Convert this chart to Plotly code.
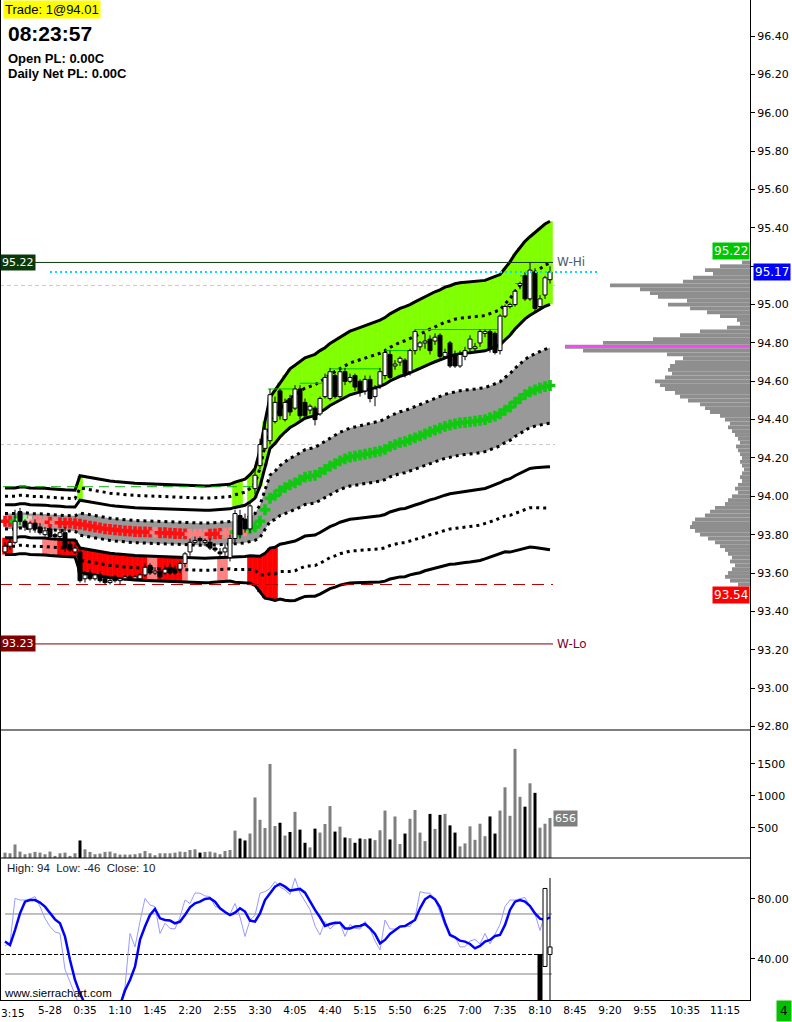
import plotly.graph_objects as go

# ------------------------------------------------------------------ data
N_BARS = 110
bar_minutes = [-45 + 5 * i for i in range(N_BARS)]   # 5-minute bars, 23:15 (prev day) .. 08:20

open_ = [93.71, 93.74, 93.76, 93.92, 93.87, 93.83, 93.86, 93.84, 93.80, 93.83,
         93.80, 93.79, 93.81, 93.75, 93.71, 93.71, 93.57, 93.60, 93.57, 93.59,
         93.57, 93.55, 93.58, 93.56, 93.57, 93.58, 93.57, 93.57, 93.59, 93.64,
         93.60, 93.61, 93.60, 93.63, 93.62, 93.62, 93.65, 93.71, 93.76, 93.78,
         93.76, 93.76, 93.73, 93.71, 93.71, 93.68, 93.78, 93.90, 93.88, 93.83,
         94.04, 94.16, 94.25, 94.29, 94.39, 94.55, 94.40, 94.51, 94.46, 94.56,
         94.49, 94.45, 94.46, 94.43, 94.52, 94.51, 94.63, 94.52, 94.65, 94.60,
         94.63, 94.60, 94.55, 94.61, 94.52, 94.58, 94.63, 94.74, 94.68, 94.70,
         94.71, 94.65, 94.76, 94.78, 94.80, 94.82, 94.81, 94.84, 94.73, 94.80,
         94.74, 94.68, 94.73, 94.77, 94.77, 94.80, 94.85, 94.86, 94.85, 94.76,
         94.94, 94.99, 95.00, 95.10, 95.15, 95.03, 95.17, 94.99, 95.05, 95.13]
high = [93.76, 93.78, 93.93, 93.94, 93.88, 93.87, 93.88, 93.86, 93.84, 93.84,
        93.81, 93.83, 93.84, 93.77, 93.75, 93.73, 93.61, 93.62, 93.60, 93.61,
        93.58, 93.57, 93.59, 93.58, 93.59, 93.59, 93.59, 93.60, 93.65, 93.65,
        93.63, 93.63, 93.64, 93.65, 93.64, 93.66, 93.71, 93.78, 93.79, 93.79,
        93.78, 93.78, 93.74, 93.73, 93.75, 93.80, 93.93, 93.93, 93.91, 93.97,
        94.14, 94.30, 94.38, 94.56, 94.52, 94.56, 94.51, 94.53, 94.58, 94.58,
        94.51, 94.48, 94.47, 94.52, 94.64, 94.67, 94.64, 94.67, 94.67, 94.64,
        94.64, 94.61, 94.63, 94.63, 94.58, 94.67, 94.77, 94.76, 94.71, 94.73,
        94.72, 94.77, 94.87, 94.81, 94.85, 94.84, 94.85, 94.85, 94.77, 94.81,
        94.76, 94.76, 94.78, 94.84, 94.80, 94.87, 94.87, 94.87, 94.86, 94.95,
        95.00, 95.01, 95.08, 95.12, 95.17, 95.22, 95.19, 95.05, 95.15, 95.20]
low = [93.70, 93.72, 93.75, 93.85, 93.82, 93.81, 93.81, 93.80, 93.79, 93.78,
       93.77, 93.78, 93.71, 93.71, 93.70, 93.55, 93.55, 93.56, 93.56, 93.55,
       93.54, 93.54, 93.55, 93.54, 93.56, 93.56, 93.56, 93.56, 93.58, 93.59,
       93.59, 93.57, 93.59, 93.59, 93.59, 93.60, 93.63, 93.69, 93.75, 93.75,
       93.74, 93.72, 93.71, 93.68, 93.69, 93.66, 93.76, 93.78, 93.81, 93.81,
       94.01, 94.14, 94.24, 94.27, 94.38, 94.40, 94.39, 94.42, 94.45, 94.40,
       94.40, 94.43, 94.37, 94.42, 94.51, 94.50, 94.51, 94.51, 94.58, 94.59,
       94.55, 94.52, 94.53, 94.49, 94.47, 94.56, 94.61, 94.61, 94.66, 94.68,
       94.62, 94.63, 94.74, 94.76, 94.77, 94.74, 94.79, 94.72, 94.72, 94.67,
       94.67, 94.67, 94.71, 94.75, 94.75, 94.78, 94.83, 94.75, 94.74, 94.74,
       94.93, 94.98, 94.99, 95.08, 95.02, 95.02, 94.96, 94.97, 95.03, 95.11]
close = [93.74, 93.76, 93.87, 93.87, 93.84, 93.86, 93.83, 93.81, 93.82, 93.79,
         93.79, 93.81, 93.73, 93.72, 93.73, 93.56, 93.59, 93.57, 93.59, 93.56,
         93.55, 93.56, 93.56, 93.57, 93.58, 93.57, 93.58, 93.59, 93.63, 93.60,
         93.61, 93.58, 93.62, 93.60, 93.60, 93.65, 93.70, 93.76, 93.77, 93.77,
         93.77, 93.73, 93.72, 93.70, 93.73, 93.78, 93.91, 93.80, 93.83, 93.95,
         94.11, 94.27, 94.35, 94.53, 94.49, 94.42, 94.49, 94.44, 94.56, 94.42,
         94.42, 94.47, 94.40, 94.51, 94.62, 94.65, 94.52, 94.65, 94.60, 94.62,
         94.57, 94.55, 94.61, 94.51, 94.56, 94.65, 94.75, 94.62, 94.69, 94.72,
         94.64, 94.76, 94.86, 94.80, 94.81, 94.76, 94.83, 94.73, 94.75, 94.68,
         94.68, 94.74, 94.76, 94.82, 94.78, 94.86, 94.86, 94.77, 94.75, 94.94,
         94.99, 95.00, 95.07, 95.11, 95.03, 95.18, 94.98, 95.03, 95.14, 95.17]

# moving-average centre line and band unit width (read per bar)
band_center = [93.870, 93.870, 93.870, 93.875, 93.875, 93.870, 93.870, 93.870, 93.868, 93.865,
               93.865, 93.862, 93.860, 93.860, 93.858, 93.855, 93.850, 93.845, 93.840, 93.835,
               93.830, 93.828, 93.825, 93.822, 93.820, 93.818, 93.816, 93.815, 93.814, 93.813,
               93.812, 93.810, 93.810, 93.808, 93.806, 93.805, 93.804, 93.803, 93.802, 93.802,
               93.802, 93.803, 93.804, 93.806, 93.808, 93.810, 93.813, 93.815, 93.820, 93.830,
               93.840, 93.870, 93.930, 93.990, 94.005, 94.030, 94.045, 94.060, 94.070, 94.085,
               94.100, 94.105, 94.110, 94.125, 94.140, 94.158, 94.170, 94.185, 94.195, 94.205,
               94.210, 94.215, 94.220, 94.225, 94.230, 94.236, 94.245, 94.260, 94.270, 94.280,
               94.285, 94.295, 94.305, 94.315, 94.325, 94.336, 94.345, 94.355, 94.365, 94.372,
               94.378, 94.383, 94.386, 94.388, 94.392, 94.396, 94.400, 94.410, 94.418, 94.430,
               94.450, 94.466, 94.490, 94.510, 94.530, 94.545, 94.555, 94.565, 94.572, 94.578]
band_width = [0.040, 0.040, 0.040, 0.040, 0.040, 0.040, 0.040, 0.040, 0.040, 0.040,
              0.040, 0.040, 0.040, 0.040, 0.040, 0.058, 0.058, 0.058, 0.058, 0.058,
              0.058, 0.058, 0.058, 0.058, 0.058, 0.058, 0.058, 0.058, 0.058, 0.058,
              0.058, 0.058, 0.058, 0.058, 0.058, 0.058, 0.058, 0.058, 0.058, 0.058,
              0.058, 0.058, 0.058, 0.058, 0.058, 0.058, 0.060, 0.061, 0.062, 0.065,
              0.070, 0.085, 0.106, 0.121, 0.126, 0.130, 0.135, 0.139, 0.141, 0.142,
              0.143, 0.144, 0.145, 0.146, 0.146, 0.147, 0.148, 0.149, 0.150, 0.151,
              0.152, 0.153, 0.154, 0.155, 0.156, 0.157, 0.158, 0.159, 0.160, 0.161,
              0.162, 0.162, 0.163, 0.164, 0.164, 0.165, 0.166, 0.166, 0.167, 0.167,
              0.168, 0.168, 0.168, 0.168, 0.168, 0.168, 0.167, 0.167, 0.167, 0.167,
              0.170, 0.174, 0.178, 0.181, 0.184, 0.186, 0.189, 0.192, 0.195, 0.197]

# per-bar colour states (r red, p pink, q pale pink, g green, l light green)
dot_state = ("rrgllqpppr" "prrrrrrrrr" "rrrrrrrrrr" "prrrrrrppp" "prrrppggpg"
             "gggggggggg" "gggggggggg" "gggggggggg" "gggggggggg" "gggggggggg" "gggggggggg")
upper_state = (".........." ".....G...." ".........." ".........." "......GG.G"
               "GGGGGGGGGG" "GGGGGGGGGG" "GGGGGGGGGG" "GGGGGGGGGG" "GGGGGGGGGG" "GGGGGGGGGG")
lower_state = ("RR......PP" "PRRRRRRRRR" "RRRRRRRRRP" "PRRRRRP..." "...PP....R"
               "RRRRR....." ".........." ".........." ".........." ".........." "..........")

# short swing-high markers: (start minute, end minute, price)
swing_highs = [(218, 243, 94.56), (250, 272, 94.59), (280, 330, 94.665), (335, 360, 94.76),
               (365, 450, 94.87), (453, 463, 94.99), (465, 477, 95.11), (470, 478, 95.15)]

volume = [115, 105, 243, 131, 90, 105, 126, 115, 90, 131,
          64, 105, 115, 64, 105, 305, 167, 126, 90, 100,
          126, 131, 105, 85, 85, 85, 90, 105, 141, 105,
          74, 105, 105, 105, 115, 131, 126, 156, 167, 115,
          126, 131, 115, 90, 141, 156, 459, 336, 305, 413,
          977, 628, 500, 1500, 531, 582, 382, 438, 752, 474,
          269, 197, 490, 428, 562, 843, 444, 521, 351, 341,
          269, 336, 326, 336, 310, 464, 772, 321, 680, 249,
          413, 644, 782, 428, 295, 720, 485, 705, 720, 541,
          428, 213, 259, 526, 315, 567, 372, 680, 413, 772,
          1136, 690, 1736, 987, 833, 1198, 1049, 505, 567, 656]
volume_down_bars = [15, 39, 47, 48, 55, 57, 59, 60, 62, 66, 68, 70, 71, 73, 77, 80,
                    85, 87, 89, 90, 97, 98, 104, 106]

osc_slow = [51.6, 49.3, 59.3, 70.4, 78.2, 79.3, 79.3, 77.6, 74.9, 70.4,
            66.4, 63.8, 54.9, 39.3, 26.0, 17.0, 10.0, 6.0, 4.0, 3.0,
            3.0, 4.0, 6.0, 9.0, 19.0, 26.0, 34.9, 52.7, 61.6, 69.3,
            73.3, 67.1, 66.0, 65.6, 63.8, 64.9, 69.3, 74.4, 77.1, 78.2,
            80.0, 80.4, 78.2, 73.8, 71.3, 69.3, 70.9, 73.8, 71.6, 65.6,
            64.9, 70.4, 79.3, 83.8, 88.2, 90.0, 88.2, 85.6, 86.4, 86.7,
            84.2, 78.2, 72.7, 67.8, 62.0, 63.3, 64.2, 64.2, 60.4, 60.4,
            61.6, 62.0, 63.3, 60.4, 56.7, 50.4, 52.7, 56.7, 58.9, 61.6,
            62.0, 63.8, 66.0, 73.8, 79.8, 82.0, 79.8, 74.4, 64.2, 56.0,
            54.4, 52.2, 51.6, 50.0, 47.1, 48.7, 51.6, 52.7, 55.3, 56.0,
            62.7, 72.7, 78.2, 79.3, 78.2, 75.3, 70.4, 66.9, 66.0, 67.8]
osc_fast = [48.7, 50.4, 80.4, 79.3, 79.3, 80.0, 81.6, 75.0, 67.0, 61.6,
            58.0, 57.0, 33.0, 24.0, 15.0, 8.0, 4.0, 3.0, 3.0, 3.0,
            3.0, 4.0, 5.0, 10.0, 21.6, 57.0, 48.0, 65.0, 80.4, 76.0,
            74.9, 57.0, 63.8, 60.4, 60.0, 68.0, 79.3, 77.0, 84.0, 83.8,
            82.0, 81.6, 75.0, 74.0, 71.0, 70.0, 77.0, 68.0, 55.0, 66.0,
            69.0, 83.8, 84.9, 87.0, 91.6, 88.0, 86.0, 83.0, 93.8, 84.0,
            78.0, 73.0, 62.0, 56.0, 65.0, 60.0, 63.0, 64.0, 55.0, 63.0,
            60.4, 60.0, 65.0, 60.0, 52.0, 46.0, 66.0, 60.0, 60.0, 62.0,
            62.0, 61.6, 67.0, 84.9, 84.0, 83.8, 80.0, 70.4, 62.0, 56.0,
            55.0, 48.0, 48.2, 52.0, 53.0, 50.0, 57.0, 50.0, 57.0, 63.0,
            75.0, 79.3, 79.3, 80.4, 81.0, 75.0, 70.0, 59.0, 70.0, 69.0]
# oscillator bars of the last three bars
osc_bar_index = [107, 108, 109]
osc_bar_open = [43, 35, 43]
osc_bar_high = [43, 87, 94]
osc_bar_low = [-46, 35, -46]
osc_bar_close = [-46, 87, 48]

profile_prices = [round(95.22 - 0.02 * k, 2) for k in range(85)]
profile_volume = [64, 240, 360, 296, 456, 536, 1120, 880, 800, 736, 504, 656, 480, 344, 240, 104, 80,
                  184, 400, 560, 776, 1176, 1480, 1336, 664, 536,
                  600, 640, 656, 624, 680, 760, 720, 680, 600, 560, 496, 400, 360, 320, 240, 200,
                  160, 176, 144, 120, 96, 80, 112, 96, 80, 64, 80, 64, 48, 64, 80, 64, 96, 120, 96, 144,
                  176, 200, 280, 320, 360, 440, 464, 480, 440, 400, 336, 280, 240, 200, 176, 144, 160,
                  120, 144, 176, 200, 160, 96]

week_high, week_low = 95.22, 93.23
day_low, last_price, poc_price = 93.54, 95.17, 94.78
prior_high = 94.05
ref_levels = [95.10, 94.27]
osc_levels = [70, 30]
osc_dash_level = 43
last_volume = 656

price_ticks = [92.80, 93.00, 93.20, 93.40, 93.60, 93.80, 94.00, 94.20, 94.40, 94.60,
               94.80, 95.00, 95.20, 95.40, 95.60, 95.80, 96.00, 96.20, 96.40]
hidden_price_tick = 95.20          # covered by the last-price marker in the source
edge_time_label = "3:15"           # visible part of the first time label at the left edge
time_tick_minutes = [0, 35, 70, 105, 140, 175, 210, 245, 280, 315, 350, 385, 420,
                     455, 490, 525, 560, 595, 635, 675]
time_tick_labels = ["5-28", "0:35", "1:10", "1:45", "2:20", "2:55", "3:30", "4:05",
                    "4:40", "5:15", "5:50", "6:25", "7:00", "7:35", "8:10", "8:45", "9:20",
                    "9:55", "10:35", "11:15"]

# ------------------------------------------------------------------ styles
GRAY_K, INNER_K, MID_K, OUTER_K = 1.0, 2.15, 3.25, 4.35
BODY_HALF = 2.0
MIN_BODY = 0.003
FILL_W = 5.6
X_LEFT, X_RIGHT = -50, 700
LINE_END = 503
FONT = "DejaVu Sans"
DOT_COLORS = {"r": "#FF1010", "p": "#FF8080", "q": "#FFC8C8", "g": "#10C810", "l": "#90FF90"}
LOW_COLORS = {"R": "#FF0000", "P": "#FF8080"}

def band(k):
    return [c + k * s for c, s in zip(band_center, band_width)]

gray_top, gray_bot = band(GRAY_K), band(-GRAY_K)
up_in, up_mid, up_out = band(INNER_K), band(MID_K), band(OUTER_K)
lo_in, lo_mid, lo_out = band(-INNER_K), band(-MID_K), band(-OUTER_K)

fig = go.Figure()

# ---- coloured band fills (per bar)
g_idx = [i for i, ch in enumerate(upper_state) if ch == "G"]
fig.add_trace(go.Bar(x=[bar_minutes[i] for i in g_idx], base=[up_in[i] for i in g_idx],
                     y=[up_out[i] - up_in[i] for i in g_idx], width=FILL_W,
                     marker=dict(color="#80FF00", line=dict(width=0)), hoverinfo="skip"))
r_idx = [i for i, ch in enumerate(lower_state) if ch in LOW_COLORS]
fig.add_trace(go.Bar(x=[bar_minutes[i] for i in r_idx], base=[lo_out[i] for i in r_idx],
                     y=[lo_in[i] - lo_out[i] for i in r_idx], width=FILL_W,
                     marker=dict(color=[LOW_COLORS[lower_state[i]] for i in r_idx], line=dict(width=0)),
                     hoverinfo="skip"))

# ---- gray inner band
fig.add_trace(go.Scatter(x=bar_minutes, y=gray_top, mode="lines", line=dict(width=0), hoverinfo="skip"))
fig.add_trace(go.Scatter(x=bar_minutes, y=gray_bot, mode="lines", line=dict(width=0), fill="tonexty",
                         fillcolor="#999999", hoverinfo="skip"))

# ---- band lines
for series in (up_in, up_out, lo_in, lo_out):
    fig.add_trace(go.Scatter(x=bar_minutes, y=series, mode="lines",
                             line=dict(color="black", width=3), hoverinfo="skip"))
for series in (up_mid, lo_mid, gray_top, gray_bot):
    fig.add_trace(go.Scatter(x=bar_minutes, y=series, mode="lines",
                             line=dict(color="black", width=3, dash="3px,4px"), hoverinfo="skip"))

# ---- horizontal levels
def hline(level, x0, x1, color, width=1, dash="solid", xa="x", ya="y"):
    fig.add_trace(go.Scatter(x=[x0, x1], y=[level, level], mode="lines", xaxis=xa, yaxis=ya,
                             line=dict(color=color, width=width, dash=dash), hoverinfo="skip"))

hline(week_high, X_LEFT, LINE_END, "#0A3A0A")
hline(week_low, X_LEFT, LINE_END, "#800000")
hline(day_low, X_LEFT, LINE_END, "#C00000", dash="12px,7px")
hline(prior_high, -47, 205, "#00B000", dash="10px,6px")

# swing-high markers
sx, sy = [], []
for t0, t1, lv in swing_highs:
    sx += [t0, t1, None]
    sy += [lv, lv, None]
fig.add_trace(go.Scatter(x=sx, y=sy, mode="lines", line=dict(color="#00C000", width=1), hoverinfo="skip"))

# ---- centre dots
fig.add_trace(go.Scatter(x=bar_minutes, y=band_center, mode="markers",
                         marker=dict(symbol="cross", size=9, color=[DOT_COLORS[ch] for ch in dot_state],
                                     line=dict(width=0)), hoverinfo="skip"))

# ---- candles
def candle_traces(opens, highs, lows, closes, times, xa, ya):
    wx, wy = [], []
    for k in range(len(times)):
        wx += [times[k], times[k], None]
        wy += [lows[k], highs[k], None]
    fig.add_trace(go.Scatter(x=wx, y=wy, mode="lines", line=dict(color="black", width=1),
                             xaxis=xa, yaxis=ya, hoverinfo="skip"))
    for up in (True, False):
        bx, by = [], []
        for k in range(len(times)):
            if (closes[k] >= opens[k]) != up:
                continue
            b0, b1 = min(opens[k], closes[k]), max(opens[k], closes[k])
            if b1 - b0 < MIN_BODY:
                b1 = b0 + MIN_BODY
            t = times[k]
            bx += [t - BODY_HALF, t + BODY_HALF, t + BODY_HALF, t - BODY_HALF, t - BODY_HALF, None]
            by += [b0, b0, b1, b1, b0, None]
        fig.add_trace(go.Scatter(x=bx, y=by, mode="lines", fill="toself",
                                 fillcolor="white" if up else "black",
                                 line=dict(color="black", width=1), xaxis=xa, yaxis=ya, hoverinfo="skip"))

candle_traces(open_, high, low, close, bar_minutes, "x", "y")

# ---- last price dotted line
hline(last_price, 0, 550, "#00DDFF", width=2, dash="2px,3px")

# ---- volume
fig.add_trace(go.Bar(x=bar_minutes, y=volume, width=3, xaxis="x2", yaxis="y2",
                     marker=dict(color=["#000000" if i in volume_down_bars else "#7F7F7F"
                                        for i in range(N_BARS)], line=dict(width=0)),
                     hoverinfo="skip"))

# ---- oscillator
for lv in osc_levels:
    hline(lv, -45, 502, "#808080", xa="x3", ya="y3")
hline(osc_dash_level, X_LEFT, 495, "black", dash="4px,2px", xa="x3", ya="y3")
fig.add_trace(go.Scatter(x=bar_minutes, y=osc_fast, mode="lines", xaxis="x3", yaxis="y3",
                         line=dict(color="#9A9AFF", width=1), hoverinfo="skip"))
fig.add_trace(go.Scatter(x=bar_minutes, y=osc_slow, mode="lines", xaxis="x3", yaxis="y3",
                         line=dict(color="#0000FF", width=2.5), hoverinfo="skip"))
candle_traces(osc_bar_open, osc_bar_high, osc_bar_low, osc_bar_close,
              [bar_minutes[i] for i in osc_bar_index], "x3", "y3")

# ---- volume profile (overlay axis)
fig.add_trace(go.Bar(x=profile_volume, y=profile_prices, orientation="h", width=0.02,
                     xaxis="x4", yaxis="y", marker=dict(color="#8E8E8E", line=dict(width=0)),
                     hoverinfo="skip"))
fig.add_trace(go.Scatter(x=[0, max(profile_volume)], y=[poc_price, poc_price], mode="lines",
                         xaxis="x4", yaxis="y", line=dict(color="#FF44FF", width=2), hoverinfo="skip"))

# ------------------------------------------------------------------ layout
axis_font = dict(family=FONT, size=11, color="black")
fig.update_layout(
    width=792, height=1022, margin=dict(l=0, r=42, t=0, b=22, autoexpand=False),
    paper_bgcolor="white", plot_bgcolor="white", showlegend=False, barmode="overlay",
    xaxis=dict(domain=[0, 1], range=[X_LEFT, X_RIGHT], anchor="y", showticklabels=False,
               showgrid=False, zeroline=False, ticks="", automargin=False),
    xaxis2=dict(matches="x", anchor="y2", showticklabels=False, showgrid=False, zeroline=False,
                automargin=False),
    xaxis3=dict(matches="x", anchor="y3", showgrid=False, zeroline=False, tickmode="array",
                tickvals=time_tick_minutes, ticktext=time_tick_labels, ticks="", automargin=False,
                tickfont=dict(family=FONT, size=10.5, color="black"),
                showline=True, linecolor="black", linewidth=1),
    xaxis4=dict(overlaying="x", anchor="y", range=[6000, 0], visible=False),
    yaxis=dict(domain=[0.27, 1], range=[92.781, 96.589], side="right", tickmode="array",
               tickvals=price_ticks,
               ticktext=["" if v == hidden_price_tick else f"{v:.2f}" for v in price_ticks],
               ticks="outside", ticklen=4, tickcolor="black", showline=True, linecolor="black",
               linewidth=1, showgrid=False, zeroline=False, tickfont=axis_font, automargin=False),
    yaxis2=dict(domain=[0.142, 0.27], range=[31, 2031], side="right", tickmode="array",
                tickvals=[500, 1000, 1500], ticks="outside", ticklen=4, tickcolor="black",
                showline=True, linecolor="black", linewidth=1, showgrid=False, zeroline=False,
                tickfont=axis_font, automargin=False),
    yaxis3=dict(domain=[0, 0.142], range=[12.67, 107.3], side="right", tickmode="array",
                tickvals=[40, 80], ticktext=["40.00", "80.00"], ticks="outside", ticklen=4,
                tickcolor="black", showline=True, linecolor="black", linewidth=1,
                showgrid=False, zeroline=False, tickfont=axis_font, automargin=False),
)

shapes = []
for lv in ref_levels:
    shapes.append(dict(type="line", xref="x", yref="y", x0=X_LEFT, x1=LINE_END + 2, y0=lv, y1=lv,
                       line=dict(color="#C8C8C8", width=1, dash="4px,3px"), layer="below"))
for py in (0.27, 0.142):
    shapes.append(dict(type="line", xref="paper", yref="paper", x0=0, x1=1, y0=py, y1=py,
                       line=dict(color="black", width=1)))
shapes.append(dict(type="line", xref="paper", yref="paper", x0=0, x1=0, y0=0, y1=1,
                   line=dict(color="black", width=2)))
fig.update_layout(shapes=shapes)

ann = []
def note(text, x, y, xref="paper", yref="paper", xanchor="left", yanchor="middle", size=11,
         color="black", bg=None, bold=False, family=FONT, yshift=0, pad=1):
    d = dict(text=f"<b>{text}</b>" if bold else text, x=x, y=y, xref=xref, yref=yref,
             xanchor=xanchor, yanchor=yanchor, showarrow=False, yshift=yshift, borderpad=pad,
             font=dict(family=family, size=size, color=color))
    if bg:
        d["bgcolor"] = bg
    ann.append(d)

note("Trade: 1@94.01", 0.004, 0.9995, yanchor="top", size=13, bg="#FFFF00", family="Liberation Sans")
note("08:23:57", 0.008, 0.967, size=21, bold=True, family="Liberation Sans")
note("Open PL: 0.00C", 0.008, 0.942, size=13, bold=True, family="Liberation Sans")
note("Daily Net PL: 0.00C", 0.008, 0.926, size=13, bold=True, family="Liberation Sans")
note(f"{week_high:.2f}", 0, week_high, yref="y", color="white", bg="#0A3A0A")
note(f"{week_low:.2f}", 0, week_low, yref="y", color="white", bg="#800000")
note("W-Hi", LINE_END + 2, week_high, xref="x", yref="y", size=12, color="#4A5A6A")
note("W-Lo", LINE_END + 2, week_low, xref="x", yref="y", size=12, color="#800030")
note(f"{week_high:.2f}", 1, week_high, yref="y", xanchor="right", yanchor="bottom", yshift=2,
     color="white", bg="#00C800", size=12)
note(f"{day_low:.2f}", 1, day_low, yref="y", xanchor="right", yanchor="top", yshift=-1,
     color="white", bg="#FF0000", size=12)
note(f"{last_price:.2f}", 1.004, last_price, yref="y", color="white", bg="#0000FF", size=12)
note(str(last_volume), bar_minutes[-1] + 3, last_volume, xref="x", yref="y2", color="white",
     bg="#7F7F7F", size=11)
note("High: 94  Low: -46  Close: 10", 0.006, 0.132, size=11.5, color="#202020",
     family="Liberation Sans")
note("www.sierrachart.com", 0.003, 0.007, size=11.5, family="Liberation Sans")
note("4", 1.035, -0.011, yanchor="middle", bg="#00C000", size=12, pad=3)
note(edge_time_label, 0.0, -0.013, xanchor="left", size=10.5, pad=0)
fig.update_layout(annotations=ann)

fig.write_html("out.html", config={"displayModeBar": False},
               post_script="document.body.style.margin='0px';")
